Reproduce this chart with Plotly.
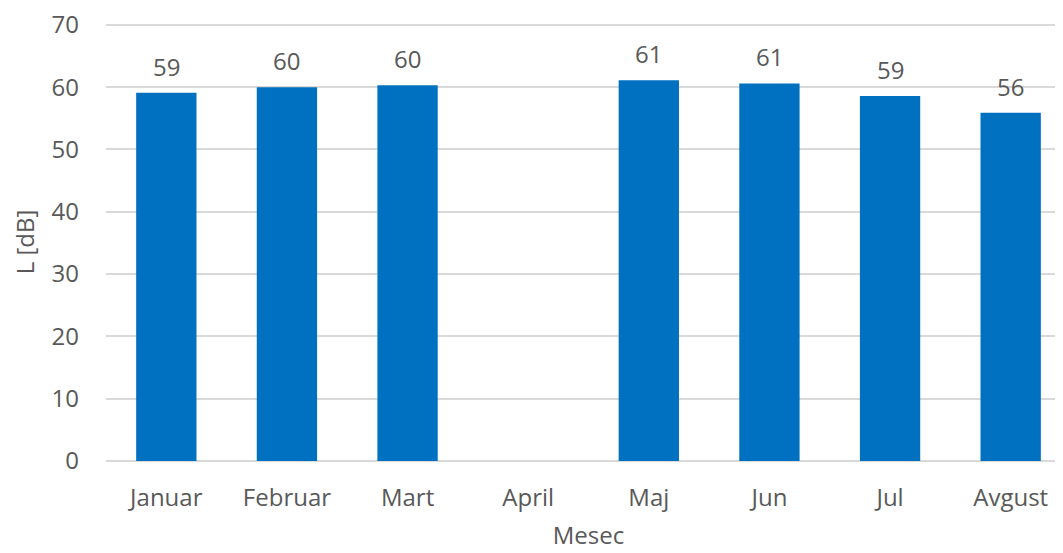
import plotly.graph_objects as go

months = ["Januar", "Februar", "Mart", "April", "Maj", "Jun", "Jul", "Avgust"]
levels = [59.1, 60.0, 60.3, None, 61.1, 60.6, 58.6, 55.9]
y_ticks = [0, 10, 20, 30, 40, 50, 60, 70]

font_family = "Open Sans"
text_color = "#595959"
fs = 24

fig = go.Figure(
    go.Bar(
        x=months,
        y=levels,
        marker=dict(color="#0070C0", line=dict(width=0)),
        width=0.5,
        cliponaxis=False,
    )
)

for m, v in zip(months, levels):
    if v is None:
        continue
    fig.add_annotation(
        x=m, y=v, text=f"{v:.0f}", showarrow=False,
        yanchor="bottom", yshift=8,
        font=dict(family=font_family, size=fs, color=text_color),
    )

fig.update_layout(
    width=1063,
    height=553,
    margin=dict(l=98, r=0, t=15, b=100),
    paper_bgcolor="white",
    plot_bgcolor="white",
    showlegend=False,
    font=dict(family=font_family, size=fs, color=text_color),
)

fig.update_xaxes(
    automargin=False,
    range=[-0.5, 7.5],
    showgrid=False,
    showline=False,
    ticks="",
    ticklabelstandoff=20,
    ticklabeloverflow="allow",
    tickfont=dict(family=font_family, size=fs, color=text_color),
    title=dict(text="Mesec", font=dict(family=font_family, size=fs, color=text_color), standoff=15),
)

fig.update_yaxes(
    automargin=False,
    range=[0, 70.3],
    tickvals=y_ticks,
    showgrid=True,
    gridcolor="#D9D9D9",
    gridwidth=2,
    zeroline=True,
    zerolinecolor="#D9D9D9",
    zerolinewidth=2,
    showline=False,
    ticks="",
    ticklabelstandoff=26,
    ticklabeloverflow="allow",
    tickfont=dict(family=font_family, size=fs, color=text_color),
    title=dict(text="L [dB]", font=dict(family=font_family, size=fs, color=text_color), standoff=13),
)

fig.write_html("out.html")
